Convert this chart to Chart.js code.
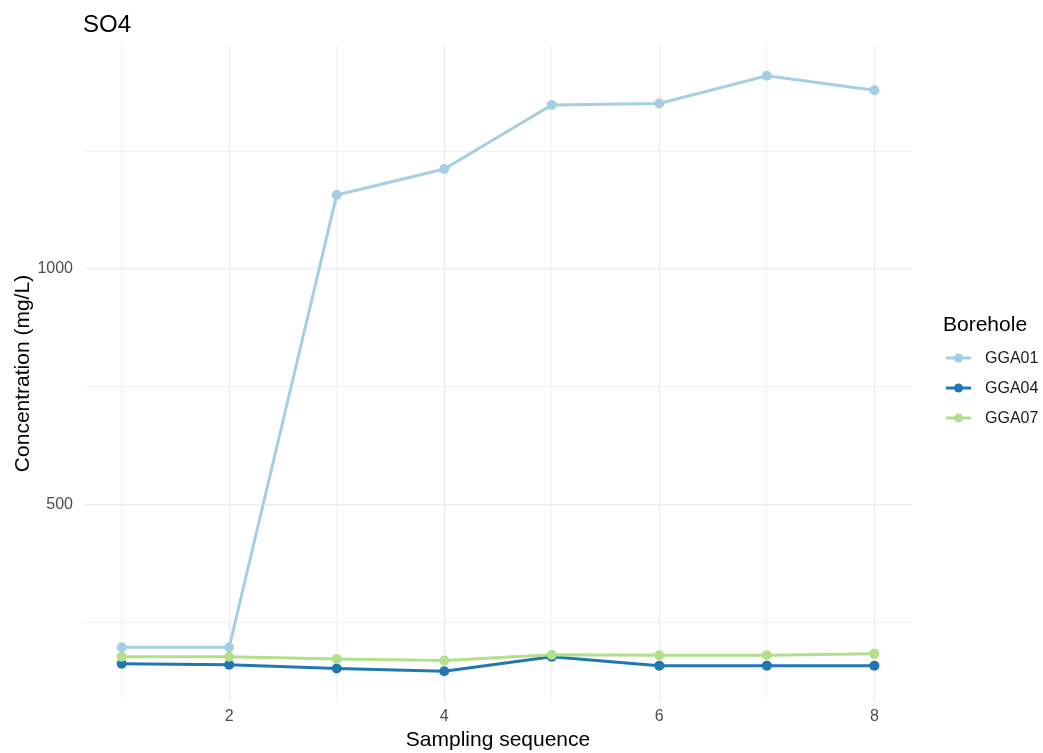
<!DOCTYPE html>
<html>
<head>
<meta charset="utf-8">
<script src="https://cdn.jsdelivr.net/npm/chart.js@4"></script>
<style>
  html, body { margin: 0; padding: 0; background: #fff; }
  #wrap { width: 1043px; height: 753px; }
</style>
</head>
<body>
<div id="wrap"><canvas id="so4Chart" width="1043" height="753"></canvas></div>
<script>
// sampling sequence and SO4 concentrations per borehole (mg/L)
const sequence = [1, 2, 3, 4, 5, 6, 7, 8];
const gga01 = [198, 198, 1157, 1212, 1348, 1351, 1410, 1379];
const gga04 = [163, 161, 153, 147, 178, 159, 159, 159];
const gga07 = [178, 178, 173, 170, 182, 181, 181, 184];
const boreholes = ["GGA01", "GGA04", "GGA07"];
const colors = ["#a6cee3", "#1f78b4", "#b2df8a"];
const yLabelTicks = [500, 1000];
const xLabelTicks = [2, 4, 6, 8];

const font = "'Liberation Sans', Arial, sans-serif";
const series = [gga01, gga04, gga07];

function toPoints(vals) {
  return sequence.map((s, i) => ({ x: s, y: vals[i] }));
}

const datasets = boreholes.map((name, i) => ({
  label: name,
  data: toPoints(series[i]),
  borderColor: colors[i],
  backgroundColor: colors[i],
  borderWidth: 3,
  pointRadius: 5,
  pointHoverRadius: 5,
  pointBorderWidth: 0,
  tension: 0,
  order: 3 - i
}));

// title and legend drawn like ggplot's
const decorations = {
  id: "decorations",
  afterDraw(chart) {
    const ctx = chart.ctx;
    ctx.save();
    ctx.fillStyle = "#000";
    ctx.font = "24px " + font;
    ctx.textBaseline = "alphabetic";
    ctx.textAlign = "left";
    ctx.fillText("SO4", 83, 32);

    ctx.font = "21px " + font;
    ctx.fillText("Borehole", 943, 331);

    ctx.font = "16px " + font;
    boreholes.forEach((name, i) => {
      const y = 358 + i * 30;
      ctx.strokeStyle = colors[i];
      ctx.lineWidth = 3;
      ctx.beginPath();
      ctx.moveTo(946, y);
      ctx.lineTo(971, y);
      ctx.stroke();
      ctx.fillStyle = colors[i];
      ctx.beginPath();
      ctx.arc(958.5, y, 4.5, 0, Math.PI * 2);
      ctx.fill();
      ctx.fillStyle = "#1a1a1a";
      ctx.textBaseline = "middle";
      ctx.fillText(name, 985, y + 1);
    });
    ctx.restore();
  }
};

new Chart(document.getElementById("so4Chart"), {
  type: "line",
  data: { datasets },
  options: {
    responsive: false,
    animation: false,
    layout: { padding: { left: 11, right: 131, top: 46, bottom: 0 } },
    plugins: {
      legend: { display: false },
      tooltip: { enabled: false }
    },
    scales: {
      x: {
        type: "linear",
        min: 0.65,
        max: 8.35,
        border: { display: false },
        afterFit: (axis) => { axis.height = 52; },
        grid: {
          color: "#ebebeb",
          lineWidth: (c) => (xLabelTicks.includes(c.tick.value) ? 1.2 : 0.7),
          drawTicks: false
        },
        afterBuildTicks: (axis) => {
          axis.ticks = sequence.map((v) => ({ value: v }));
        },
        ticks: {
          padding: 6,
          color: "#4d4d4d",
          font: { family: font, size: 16 },
          maxRotation: 0,
          callback: (v) => (xLabelTicks.includes(v) ? String(v) : "")
        },
        title: {
          display: true,
          text: "Sampling sequence",
          color: "#000",
          font: { family: font, size: 21 },
          padding: { top: 2, bottom: 0 }
        }
      },
      y: {
        type: "linear",
        min: 84,
        max: 1473,
        border: { display: false },
        afterFit: (axis) => { axis.width = 73; },
        grid: {
          color: "#ebebeb",
          lineWidth: (c) => (yLabelTicks.includes(c.tick.value) ? 1.2 : 0.7),
          drawTicks: false
        },
        afterBuildTicks: (axis) => {
          axis.ticks = [250, 500, 750, 1000, 1250].map((v) => ({ value: v }));
        },
        ticks: {
          padding: 11,
          color: "#4d4d4d",
          font: { family: font, size: 16 },
          callback: (v) => (yLabelTicks.includes(v) ? String(v) : "")
        },
        title: {
          display: true,
          text: "Concentration (mg/L)",
          color: "#000",
          font: { family: font, size: 21 },
          padding: { top: 0, bottom: 3 }
        }
      }
    }
  },
  plugins: [decorations]
});
</script>
</body>
</html>
